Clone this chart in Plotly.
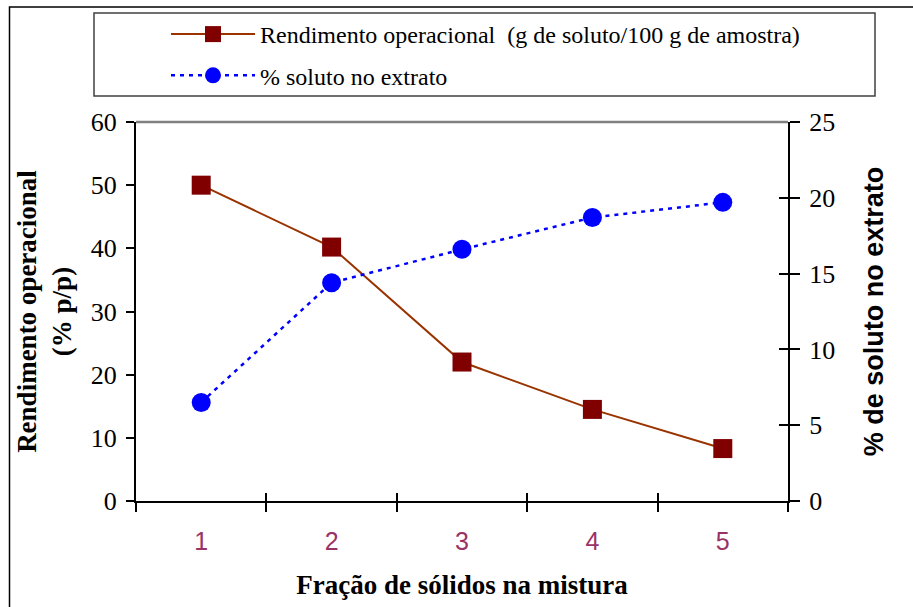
import plotly.graph_objects as go

categories = ["1", "2", "3", "4", "5"]
rendimento = [50.0, 40.2, 22.0, 14.5, 8.3]
soluto = [6.5, 14.4, 16.6, 18.7, 19.7]
left_ticks = [0, 10, 20, 30, 40, 50, 60]
right_ticks = [0, 5, 10, 15, 20, 25]

name_rend = "Rendimento operacional  (g de soluto/100 g de amostra)"
name_sol = "% soluto no extrato"

W, H = 913, 607
L, R, T, B = 136, 125, 122, 106
pw = W - L - R
ph = H - T - B

def px(x):
    return (x - L) / pw

def py(y):
    return (H - B - y) / ph

SERIF = "Liberation Serif"
SANS = "Liberation Sans"

fig = go.Figure()
fig.add_trace(go.Scatter(
    x=categories, y=rendimento, name=name_rend, mode="lines+markers",
    line=dict(color="#993300", width=2),
    marker=dict(symbol="square", size=19, color="#800000"),
    xaxis="x", yaxis="y", legendgroup="a",
))
fig.add_trace(go.Scatter(
    x=categories, y=soluto, name=name_sol, mode="lines+markers",
    line=dict(color="#0000FF", width=2.5, dash="4px,5px"),
    marker=dict(symbol="circle", size=19, color="#0000FF"),
    xaxis="x", yaxis="y2", legendgroup="b",
))
# invisible helper trace so overlay axes (inner tick halves) are drawn
fig.add_trace(go.Scatter(x=categories, y=soluto, mode="lines", line=dict(width=0),
                         opacity=0, showlegend=False, hoverinfo="skip",
                         xaxis="x2", yaxis="y3"))

axis_common = dict(showgrid=False, zeroline=False, linecolor="black", linewidth=2,
                   tickcolor="black", tickwidth=1.5)
tick_only = {k: v for k, v in axis_common.items() if k not in ("linecolor", "linewidth")}

fig.update_layout(
    width=W, height=H,
    margin=dict(l=L, r=R, t=T, b=B),
    paper_bgcolor="white", plot_bgcolor="white",
    showlegend=True,
    legend=dict(
        x=px(166), y=py(12), xanchor="left", yanchor="top",
        bgcolor="rgba(0,0,0,0)", borderwidth=0,
        font=dict(family=SERIF, size=24, color="black"),
        itemwidth=84, tracegroupgap=7,
    ),
    xaxis=dict(
        type="category", range=[-0.5, 4.5], tickson="boundaries",
        ticks="outside", ticklen=9, showline=True, ticklabelstandoff=17,
        tickfont=dict(family=SANS, size=25, color="#993366"),
        title=dict(text="<b>Fração de sólidos na mistura</b>",
                   font=dict(family=SERIF, size=27, color="black"), standoff=21),
        **axis_common,
    ),
    xaxis2=dict(
        type="category", range=[-0.5, 4.5], tickson="boundaries", overlaying="x",
        anchor="y", side="bottom", ticks="inside", ticklen=8, showticklabels=False,
        showline=False, **tick_only,
    ),
    yaxis=dict(
        range=[0, 60], tickvals=left_ticks, ticks="outside", ticklen=8, showline=True,
        ticklabelstandoff=4,
        tickfont=dict(family=SERIF, size=26, color="black"),
        title=dict(text="<b>Rendimento operacional<br>(% p/p)</b>",
                   font=dict(family=SERIF, size=27, color="black"), standoff=11),
        **axis_common,
    ),
    yaxis2=dict(
        range=[0, 25], tickvals=right_ticks, overlaying="y", side="right", anchor="x",
        ticks="outside", ticklen=10, showline=True, ticklabelstandoff=4,
        tickfont=dict(family=SERIF, size=26, color="black"),
        title=dict(text="<b>% de soluto no extrato</b>",
                   font=dict(family=SANS, size=27, color="black"), standoff=30),
        **axis_common,
    ),
    yaxis3=dict(
        range=[0, 25], tickvals=right_ticks, overlaying="y", side="right", anchor="x",
        ticks="inside", ticklen=9, showticklabels=False, showline=False,
        **tick_only,
    ),
    shapes=[
        dict(type="rect", xref="paper", yref="paper", x0=px(9.5), x1=px(930),
             y0=py(630), y1=py(7), line=dict(color="black", width=1.5), layer="below"),
        dict(type="rect", xref="paper", yref="paper", x0=px(94), x1=px(875),
             y0=py(96), y1=py(13), line=dict(color="#404040", width=1.5), layer="below"),
        dict(type="line", xref="paper", yref="paper", x0=0, x1=1, y0=1, y1=1,
             line=dict(color="#808080", width=2.5), layer="below"),
    ],
)

fig.write_html("out.html")
